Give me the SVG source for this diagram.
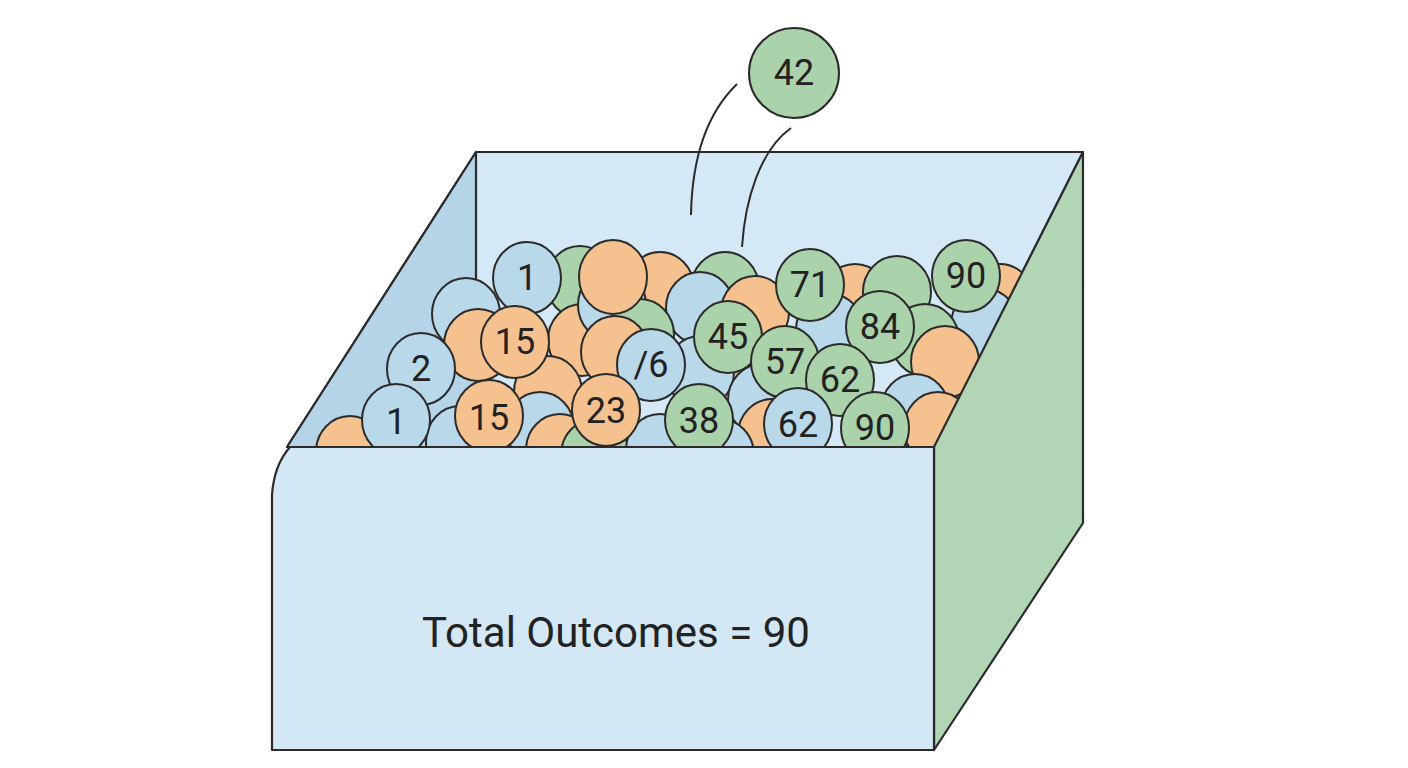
<svg xmlns="http://www.w3.org/2000/svg" width="1408" height="768" viewBox="0 0 1408 768">
<defs>
<style>
.s{stroke:#2b2b2b;stroke-width:2.2;stroke-linejoin:round}
.b{fill:#b9d8ea;stroke:#2b2b2b;stroke-width:2}
.o{fill:#f5c28f;stroke:#2b2b2b;stroke-width:2}
.g{fill:#abd3ab;stroke:#2b2b2b;stroke-width:2}
.t{font-family:Roboto,"Liberation Sans",sans-serif;font-size:36px;fill:#222;text-anchor:middle;dominant-baseline:central}
</style>
<clipPath id="inside"><rect x="0" y="0" width="1408" height="447"/></clipPath>
</defs>
<rect width="1408" height="768" fill="#fff"/>
<g id="back-wall">
<polygon class="s" points="476,152 1083,152 934,447 287,447" fill="#d4e8f5"/>
<polygon class="s" points="476,152 476,447 287,447" fill="#b5d4e7"/>
</g>
<g id="balls" clip-path="url(#inside)">
<ellipse class="g" cx="580" cy="282" rx="34" ry="36"/>
<ellipse class="o" cx="660" cy="288" rx="34" ry="36"/>
<ellipse class="g" cx="725" cy="288" rx="34" ry="36"/>
<ellipse class="o" cx="855" cy="300" rx="34" ry="36"/>
<ellipse class="g" cx="897" cy="292" rx="34" ry="36"/>
<ellipse class="o" cx="1000" cy="300" rx="34" ry="36"/>
<ellipse class="b" cx="985" cy="325" rx="34" ry="36"/>
<ellipse class="b" cx="466" cy="314" rx="34" ry="36"/>
<ellipse class="b" cx="700" cy="308" rx="34" ry="36"/>
<ellipse class="o" cx="755" cy="312" rx="34" ry="36"/>
<ellipse class="b" cx="830" cy="330" rx="34" ry="36"/>
<ellipse class="g" cx="925" cy="340" rx="34" ry="36"/>
<ellipse class="o" cx="478" cy="345" rx="34" ry="36"/>
<ellipse class="o" cx="582" cy="340" rx="34" ry="36"/>
<ellipse class="b" cx="612" cy="305" rx="34" ry="36"/>
<ellipse class="g" cx="640" cy="335" rx="34" ry="36"/>
<ellipse class="o" cx="615" cy="352" rx="34" ry="36"/>
<ellipse class="o" cx="945" cy="362" rx="34" ry="36"/>
<ellipse class="o" cx="735" cy="380" rx="34" ry="36"/>
<ellipse class="b" cx="700" cy="372" rx="34" ry="36"/>
<ellipse class="b" cx="762" cy="400" rx="34" ry="36"/>
<ellipse class="b" cx="915" cy="410" rx="34" ry="36"/>
<ellipse class="o" cx="938" cy="428" rx="34" ry="36"/>
<ellipse class="o" cx="350" cy="452" rx="34" ry="36"/>
<ellipse class="b" cx="460" cy="442" rx="34" ry="36"/>
<ellipse class="o" cx="548" cy="392" rx="34" ry="36"/>
<ellipse class="b" cx="540" cy="428" rx="34" ry="36"/>
<ellipse class="o" cx="560" cy="450" rx="34" ry="36"/>
<ellipse class="g" cx="595" cy="455" rx="34" ry="36"/>
<ellipse class="b" cx="660" cy="450" rx="34" ry="36"/>
<ellipse class="o" cx="772" cy="435" rx="34" ry="36"/>
<ellipse class="b" cx="720" cy="455" rx="34" ry="36"/>
<ellipse class="o" cx="613" cy="277" rx="34" ry="37"/>
<ellipse class="b" cx="527" cy="278" rx="34" ry="36"/><text class="t" x="527" y="278">1</text>
<ellipse class="g" cx="810" cy="285" rx="34" ry="36"/><text class="t" x="810" y="285">71</text>
<ellipse class="g" cx="966" cy="276" rx="34" ry="36"/><text class="t" x="966" y="276">90</text>
<ellipse class="o" cx="515" cy="342" rx="34" ry="36"/><text class="t" x="515" y="342">15</text>
<ellipse class="g" cx="880" cy="327" rx="34" ry="36"/><text class="t" x="880" y="327">84</text>
<ellipse class="g" cx="728" cy="337" rx="34" ry="36"/><text class="t" x="728" y="337">45</text>
<ellipse class="b" cx="421" cy="369" rx="34" ry="36"/><text class="t" x="421" y="369">2</text>
<ellipse class="b" cx="651" cy="365" rx="34" ry="36"/><text class="t" x="651" y="365">/6</text>
<ellipse class="g" cx="785" cy="362" rx="34" ry="36"/><text class="t" x="785" y="362">57</text>
<ellipse class="g" cx="840" cy="380" rx="34" ry="36"/><text class="t" x="840" y="380">62</text>
<ellipse class="b" cx="396" cy="420" rx="34" ry="36"/><text class="t" x="396" y="422">1</text>
<ellipse class="o" cx="489" cy="416" rx="34" ry="36"/><text class="t" x="489" y="418">15</text>
<ellipse class="o" cx="606" cy="410" rx="34" ry="36"/><text class="t" x="606" y="411">23</text>
<ellipse class="g" cx="699" cy="420" rx="34" ry="36"/><text class="t" x="699" y="421">38</text>
<ellipse class="b" cx="798" cy="424" rx="34" ry="36"/><text class="t" x="798" y="425">62</text>
<ellipse class="g" cx="875" cy="428" rx="34" ry="36"/><text class="t" x="875" y="428">90</text>
</g>
<g id="box-front">
<polygon class="s" points="934,447 1083,152 1083,523 934,750" fill="#b1d5b5"/>
<path class="s" d="M290,447 L934,447 L934,750 L272,750 L272,495 Q274,465 290,447 Z" fill="#d3e7f5"/>
<text x="616" y="632" font-family="Roboto,'Liberation Sans',sans-serif" font-size="42" fill="#222" text-anchor="middle" dominant-baseline="central">Total Outcomes = 90</text>
</g>
<g id="drop">
<path d="M737,84 C705,115 692,160 691,215" fill="none" stroke="#2b2b2b" stroke-width="2"/>
<path d="M791,128 C760,150 745,200 742,247" fill="none" stroke="#2b2b2b" stroke-width="2"/>
<circle class="g" cx="794" cy="73" r="45"/>
<text class="t" x="794" y="73">42</text>
</g>
</svg>
